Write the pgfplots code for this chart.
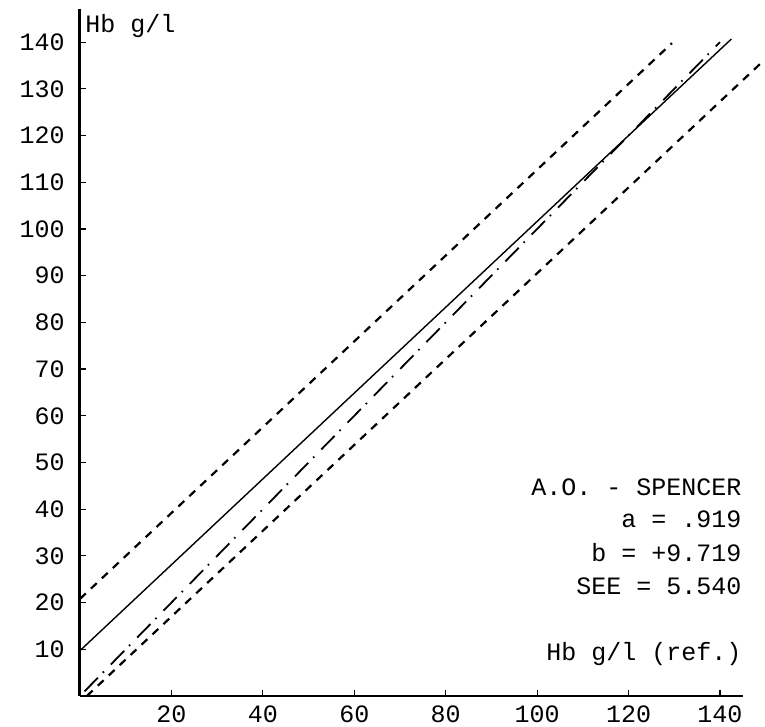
\documentclass[border=0pt]{standalone}
\usepackage{fontspec}
\setmainfont{Liberation Mono}
\usepackage{pgfplots}
\pgfplotsset{compat=1.18}
\newcommand{\lbl}{\fontsize{12.5}{15}\selectfont}

\begin{document}
\begin{tikzpicture}
\begin{axis}[
  x=2.2855pt, y=2.335pt,
  xmin=0, xmax=145, ymin=0, ymax=147,
  axis lines=left,
  axis line style={-},
  x axis line style={line width=0.8pt},
  y axis line style={line width=1.5pt},
  xtick={20,40,...,140}, ytick={10,20,...,140},
  tick align=inside, major tick length=3pt,
  tick style={black, line width=0.6pt},
  /pgf/number format/assume math mode=true,
  tick label style={font=\lbl, inner sep=0pt},
  xticklabel style={anchor=north, yshift=-4.5pt},
  yticklabel style={anchor=east, xshift=-7.5pt},
  clip=false,
]
\coordinate (O) at (axis cs:0,0);
% regression line, +/- 2 SEE limits, identity
\addplot[black, line width=0.7pt] coordinates {(0,9.72) (142.5,140.68)};
\addplot[black, line width=1.1pt, dash pattern=on 4pt off 3.5pt] coordinates {(0,20.8) (129.5,139.8)};
\addplot[black, line width=1.1pt, dash pattern=on 4pt off 3.5pt] coordinates {(1.5,0) (149.5,136.0)};
\addplot[black, line width=0.9pt, dash pattern=on 9.5pt off 3.5pt on 0.8pt off 5pt] coordinates {(1,1) (140,140)};

\node[anchor=base west, font=\lbl, inner sep=0pt] at (axis cs:1.1,142) {Hb g/l};
\node[anchor=base east, font=\lbl, inner sep=0pt] at (axis cs:144.8,7.6) {Hb g/l (ref.)};
\node[anchor=base east, font=\lbl, inner sep=0pt] at (axis cs:144.8,43) {A.O. - SPENCER};
\node[anchor=base east, font=\lbl, inner sep=0pt] at (axis cs:144.8,36) {a = .919};
\node[anchor=base east, font=\lbl, inner sep=0pt] at (axis cs:144.8,28.9) {b = +9.719};
\node[anchor=base east, font=\lbl, inner sep=0pt] at (axis cs:144.8,21.8) {SEE = 5.540};
\end{axis}
\path (O) ++(-40pt,-15.5pt) rectangle ++(382.5pt,363.5pt);
\end{tikzpicture}
\end{document}
